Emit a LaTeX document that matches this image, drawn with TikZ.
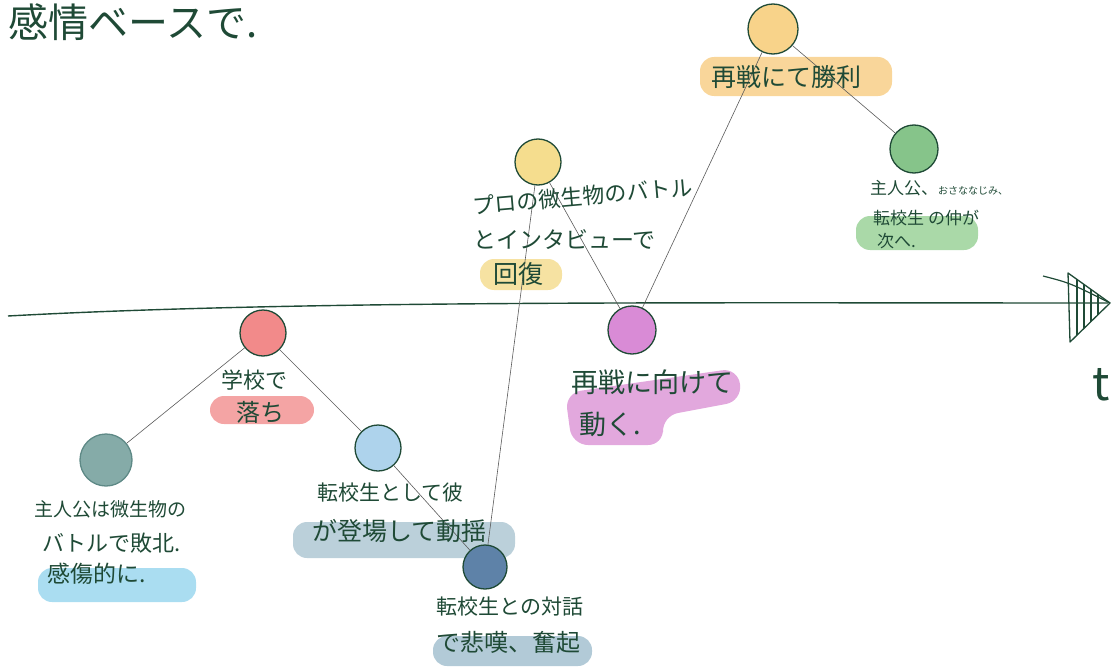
\documentclass[tikz,border=0pt]{standalone}
\usepackage{fontspec}
\newfontfamily\jp{Noto Sans CJK JP}
\definecolor{ink}{HTML}{1F4A36}
\definecolor{linkgray}{HTML}{5A5A5A}
\definecolor{cYellowTop}{HTML}{F8D38A}
\definecolor{bYellowTop}{HTML}{F9D69A}
\definecolor{cGreen}{HTML}{86C48A}
\definecolor{bGreen}{HTML}{AAD9A8}
\definecolor{cYellowMid}{HTML}{F5DD8E}
\definecolor{bYellowMid}{HTML}{F6E2A2}
\definecolor{cMagenta}{HTML}{D98BD6}
\definecolor{bMagenta}{HTML}{E2A8DD}
\definecolor{cRed}{HTML}{F28A8A}
\definecolor{bRed}{HTML}{F4A4A4}
\definecolor{cTeal}{HTML}{85ABA8}
\definecolor{cTealLine}{HTML}{5E8986}
\definecolor{bSky}{HTML}{AADDF1}
\definecolor{cLightBlue}{HTML}{AED3EC}
\definecolor{bSlate}{HTML}{BBD0DA}
\definecolor{cDarkBlue}{HTML}{5E82A8}
\definecolor{bSlateDark}{HTML}{B2CAD7}
\begin{document}
\begin{tikzpicture}[x=1pt,y=-1pt,
  ev/.style={circle, draw=ink, line width=1.3pt, minimum size=#1, inner sep=0pt},
  link/.style={draw=linkgray, line width=0.6pt},
  lbl/.style={text=ink, font=\jp\fontsize{#1}{#1}\selectfont, inner sep=0pt, anchor=west},
  band/.style={fill=#1, rounded corners=14pt}
]
\useasboundingbox (0,0) rectangle (1119,669);

% highlight bands
\fill[band=bYellowTop] (700,57) rectangle (892,96);
\fill[band=bGreen] (856,216) rectangle (978,250);
\fill[band=bYellowMid] (480,259) rectangle (562,290);
\fill[bMagenta, rounded corners=16pt] (565,393) -- (738,368) -- (742,401) -- (662,416) -- (664,445) -- (572,445) -- cycle;
\fill[band=bRed] (210,396) rectangle (314,424);
\fill[band=bSky] (38,568) rectangle (196,602);
\fill[band=bSlate] (293,522) rectangle (515,558);
\fill[band=bSlateDark] (433,636) rectangle (592,666);

% timeline
\coordinate (tl0) at (8,316);
\coordinate (tl1) at (1108,303);
\draw[ink, line width=1.4pt] (tl0) .. controls (300,300) and (700,303) .. (tl1);
% hand-drawn arrowhead
\coordinate (ah1) at (1068,273);
\coordinate (ah2) at (1110,303);
\coordinate (ah3) at (1070,342);
\begin{scope}
  \clip (ah1) -- (ah2) -- (ah3) -- cycle;
  \foreach \xx in {1077,1084,1091,1098}
    \draw[ink, line width=1.1pt] (\xx,270) -- (\xx,345);
\end{scope}
\draw[ink, line width=1.3pt, line join=round] (ah1) -- (ah2) -- (ah3) -- cycle;
\coordinate (ahs) at (1043,276);
\draw[ink, line width=1.2pt] (ahs) .. controls (1070,283) .. (ah2);
\node[text=ink, font=\jp\fontsize{46}{46}\selectfont, inner sep=0pt] (tlabel) at (1101,385) {t};

% title
\node[lbl=40] (title) at (8,22) {感情ベースで.};

% events
\node[ev=50pt, fill=cYellowTop] (win) at (773,29) {};
\node[ev=48pt, fill=cGreen] (next) at (914,149) {};
\node[ev=46pt, fill=cYellowMid] (recover) at (538,162) {};
\node[ev=48pt, fill=cMagenta] (prep) at (632,330) {};
\node[ev=46pt, fill=cRed] (school) at (263,333) {};
\node[ev=52pt, fill=cTeal, draw=cTealLine] (lose) at (106,460) {};
\node[ev=46pt, fill=cLightBlue] (transfer) at (378,448) {};
\node[ev=44pt, fill=cDarkBlue] (talk) at (485,567) {};

% connectors
\draw[link] (school) -- (lose);
\draw[link] (school) -- (transfer);
\draw[link] (transfer) -- (talk);
\draw[link] (talk) -- (recover);
\draw[link] (recover) -- (prep);
\draw[link] (prep) -- (win);
\draw[link] (win) -- (next);

% labels
\node[lbl=25] (tWin) at (711,77) {再戦にて勝利};

\node[lbl=17] (tNext1) at (870,188) {主人公、{\fontsize{10}{10}\selectfont おさななじみ、}};
\node[lbl=17] (tNext2) at (873,218) {転校生 の仲が};
\node[lbl=17] (tNext3) at (877,241) {次へ.};

\node[lbl=22, rotate=5] (tRec1) at (473,206) {プロの微生物のバトル};
\node[lbl=23] (tRec2) at (473,240) {とインタビューで};
\node[lbl=25] (tRec3) at (493,274) {回復};

\node[lbl=27] (tPrep1) at (571,382) {再戦に向けて};
\node[lbl=27] (tPrep2) at (579,424) {動く.};

\node[lbl=22] (tSch1) at (221,380) {学校で};
\node[lbl=24] (tSch2) at (236,412) {落ち};

\node[lbl=19] (tLose1) at (34,509) {主人公は微生物の};
\node[lbl=22] (tLose2) at (42,543) {バトルで敗北.};
\node[lbl=23] (tLose3) at (47,574) {感傷的に.};

\node[lbl=21] (tTr1) at (317,493) {転校生として彼};
\node[lbl=25] (tTr2) at (312,531) {が登場して動揺};

\node[lbl=21] (tTalk1) at (436,607) {転校生との対話};
\node[lbl=24] (tTalk2) at (436,642) {で悲嘆、奮起};
\end{tikzpicture}
\end{document}
